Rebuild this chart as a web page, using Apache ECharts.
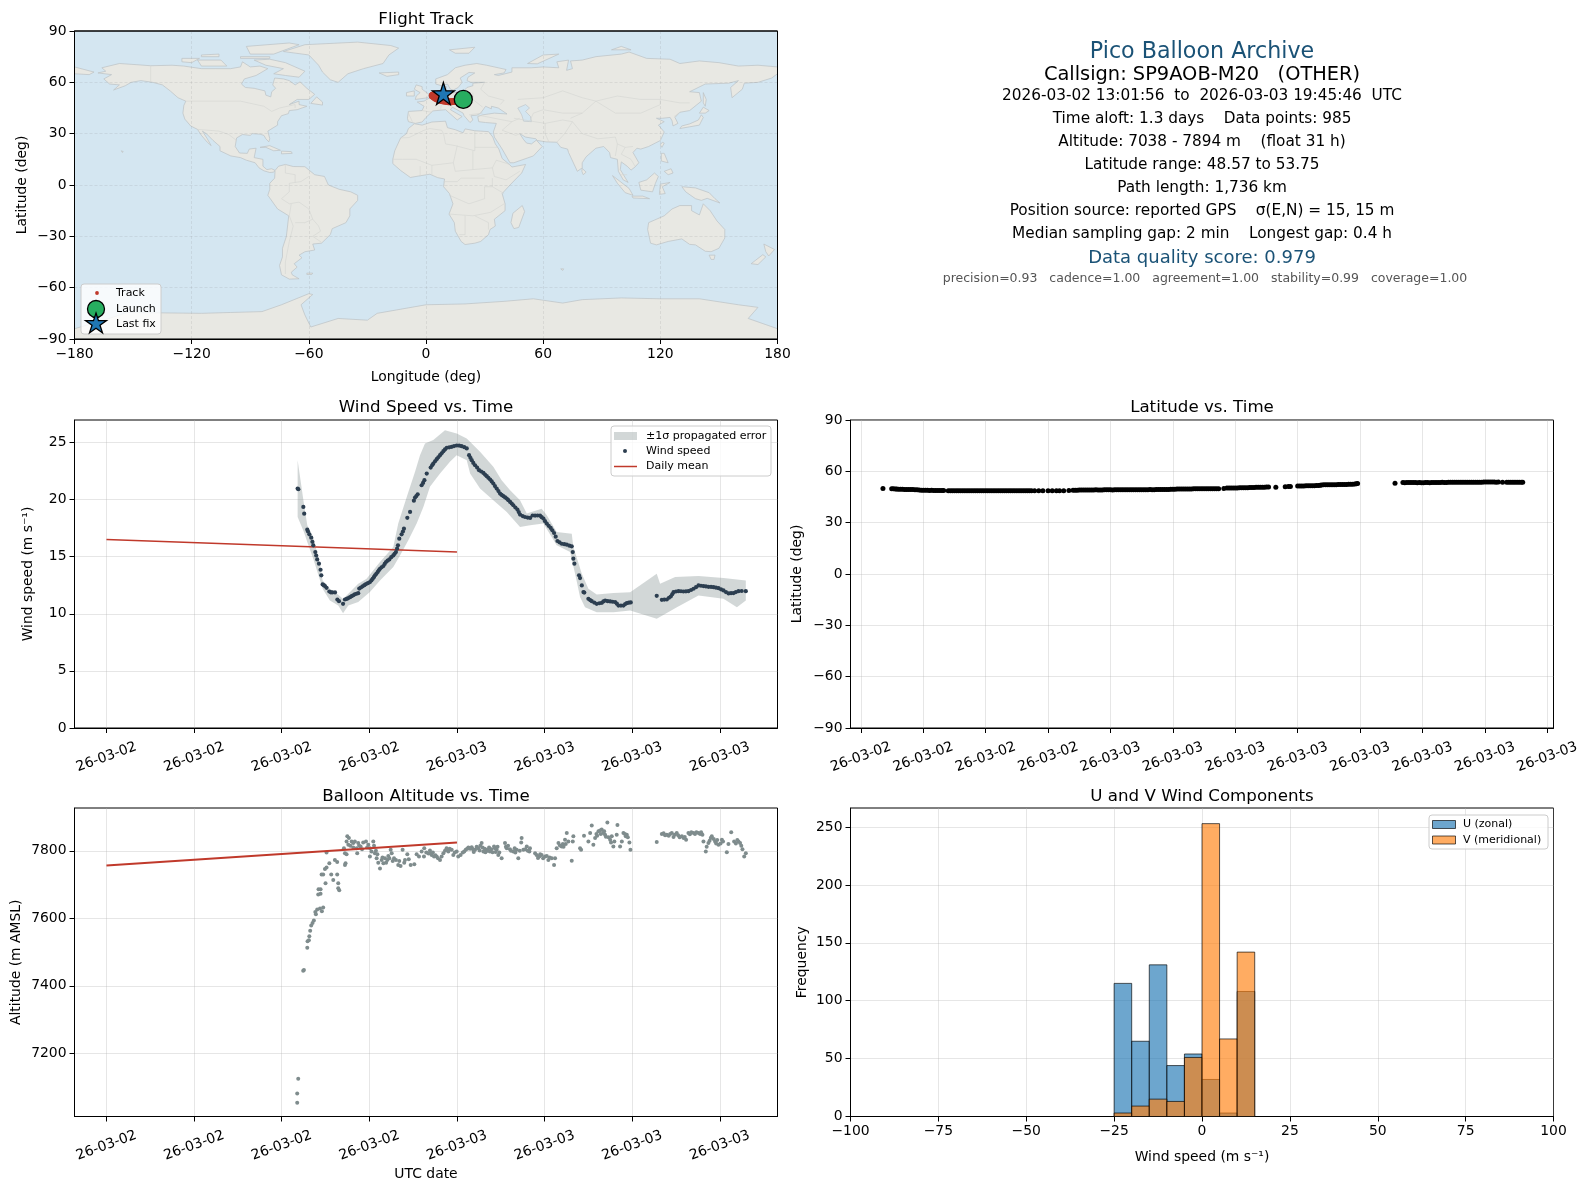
<!DOCTYPE html>
<html><head><meta charset="utf-8">
<style>html,body{margin:0;padding:0;background:#fff}#c{width:1588px;height:1189px}</style>
<script src="https://cdn.jsdelivr.net/npm/echarts@6/dist/echarts.min.js"></script>
</head><body><div id="c"></div>
<script>
// ---------- data (hours are counted from 2026-03-02 00:00 UTC) ----------
const infoLines = [
 ["Pico Balloon Archive",22.2,"#1a5276",52.5,1202],
 ["Callsign: SP9AOB-M20   (OTHER)",19.4,"#000",74.5,1202],
 ["2026-03-02 13:01:56  to  2026-03-03 19:45:46  UTC",15.3,"#000",96.5,1202],
 ["Time aloft: 1.3 days    Data points: 985",15.3,"#000",119.5,1202],
 ["Altitude: 7038 - 7894 m    (float 31 h)",15.3,"#000",142.5,1202],
 ["Latitude range: 48.57 to 53.75",15.3,"#000",165.5,1202],
 ["Path length: 1,736 km",15.3,"#000",188.5,1202],
 ["Position source: reported GPS    σ(E,N) = 15, 15 m",15.3,"#000",211.5,1202],
 ["Median sampling gap: 2 min    Longest gap: 0.4 h",15.3,"#000",234.5,1202],
 ["Data quality score: 0.979",18,"#1a5276",258.5,1202],
 ["precision=0.93   cadence=1.00   agreement=1.00   stability=0.99   coverage=1.00",12.5,"#555",278.5,1205]
];
const windTickHours = [0,6,12,18,24,30,36,42];
const windTickLabels = ["26-03-02","26-03-02","26-03-02","26-03-02","26-03-03","26-03-03","26-03-03","26-03-03"];
const latTickHours = [12,15,18,21,24,27,30,33,36,39,42,45];
const latTickLabels = ["26-03-02","26-03-02","26-03-02","26-03-02","26-03-03","26-03-03","26-03-03","26-03-03","26-03-03","26-03-03","26-03-03","26-03-03"];
const windPoints = [[13.09,20.96],[13.14,20.9],[13.48,19.35],[13.54,18.76],[13.75,17.36],[13.8,17.2],[13.89,16.95],[14.02,16.66],[14.1,16.3],[14.16,15.99],[14.3,15.4],[14.36,15.1],[14.43,14.76],[14.55,14.38],[14.66,13.85],[14.71,13.36],[14.8,12.57],[14.88,12.5],[14.96,12.42],[15.07,12.27],[15.26,11.95],[15.36,11.88],[15.46,11.87],[15.65,11.87],[15.81,11.25],[15.92,11.1],[16.2,10.87],[16.33,11.25],[16.45,11.3],[16.56,11.37],[16.68,11.45],[16.79,11.54],[16.9,11.62],[17.0,11.7],[17.12,11.75],[17.24,11.8],[17.31,12.2],[17.42,12.3],[17.54,12.4],[17.66,12.5],[17.77,12.6],[17.9,12.68],[18.04,12.77],[18.14,12.92],[18.23,13.06],[18.31,13.2],[18.39,13.36],[18.48,13.5],[18.57,13.65],[18.65,13.8],[18.73,13.94],[18.84,14.06],[18.96,14.18],[19.05,14.36],[19.14,14.53],[19.25,14.65],[19.37,14.76],[19.5,14.95],[19.64,15.11],[19.73,15.25],[19.82,15.4],[19.9,15.7],[19.96,15.99],[20.05,16.57],[20.21,16.95],[20.3,17.2],[20.37,17.45],[20.6,18.4],[20.79,18.91],[21.05,19.9],[21.13,20.17],[21.22,20.3],[21.31,20.46],[21.58,21.25],[21.68,21.45],[21.77,21.69],[21.93,22.27],[22.2,22.8],[22.3,23.0],[22.38,23.15],[22.5,23.35],[22.61,23.53],[22.72,23.7],[22.84,23.88],[22.95,24.05],[23.07,24.23],[23.18,24.38],[23.3,24.53],[23.47,24.57],[23.64,24.61],[23.8,24.68],[23.98,24.73],[24.15,24.72],[24.32,24.67],[24.5,24.58],[24.67,24.47],[24.83,23.88],[24.92,23.65],[25.01,23.44],[25.12,23.2],[25.24,23.0],[25.38,22.8],[25.51,22.57],[25.66,22.45],[25.81,22.33],[25.92,22.18],[26.04,22.04],[26.15,21.9],[26.27,21.75],[26.38,21.58],[26.49,21.4],[26.6,21.18],[26.72,20.96],[26.84,20.74],[26.95,20.52],[27.06,20.4],[27.18,20.29],[27.3,20.18],[27.41,20.08],[27.52,19.94],[27.64,19.79],[27.75,19.65],[27.86,19.5],[28.0,19.3],[28.14,19.12],[28.23,18.9],[28.32,18.68],[28.5,18.55],[28.66,18.47],[28.84,18.42],[29.01,18.39],[29.18,18.6],[29.35,18.59],[29.52,18.6],[29.69,18.59],[29.8,18.45],[29.92,18.33],[30.03,18.1],[30.15,17.89],[30.28,17.7],[30.42,17.51],[30.53,17.3],[30.65,17.07],[30.76,16.75],[30.88,16.37],[31.02,16.25],[31.18,16.13],[31.35,16.09],[31.52,16.05],[31.7,15.96],[31.86,15.9],[31.93,15.4],[31.97,14.82],[32.04,14.38],[32.36,13.36],[32.43,13.12],[32.55,12.48],[32.66,11.9],[32.72,11.85],[33.0,11.31],[33.12,11.2],[33.23,11.1],[33.4,10.98],[33.57,10.87],[33.75,10.92],[33.92,10.96],[34.03,11.08],[34.15,11.16],[34.32,11.1],[34.49,11.08],[34.66,11.05],[34.83,11.02],[34.95,10.88],[35.06,10.72],[35.23,10.72],[35.4,10.72],[35.52,10.85],[35.63,10.93],[35.77,10.97],[35.9,10.99],[37.68,11.57],[38.03,11.22],[38.2,11.24],[38.37,11.25],[38.52,11.4],[38.64,11.51],[38.74,11.7],[38.83,11.89],[39.0,11.95],[39.17,11.98],[39.34,11.97],[39.51,11.95],[39.68,11.96],[39.85,11.98],[40.03,12.08],[40.2,12.19],[40.37,12.33],[40.54,12.48],[40.71,12.45],[40.88,12.42],[41.05,12.39],[41.22,12.36],[41.4,12.35],[41.57,12.33],[41.74,12.28],[41.91,12.24],[42.08,12.14],[42.25,12.04],[42.42,11.9],[42.6,11.78],[42.77,11.8],[42.94,11.81],[43.1,11.9],[43.28,11.98],[43.5,11.99],[43.78,11.98]];
const bandUpper = [[13.09,23.44],[13.52,19.64],[13.75,17.74],[14.16,16.72],[14.66,14.09],[14.8,12.92],[15.3,12.19],[15.87,11.66],[16.2,11.3],[16.56,11.75],[17.24,12.63],[17.81,13.06],[18.73,14.53],[19.64,15.84],[19.98,17.89],[20.56,20.23],[21.13,22.42],[21.47,23.88],[21.81,24.91],[22.38,25.2],[23.18,26.07],[23.98,25.78],[24.67,25.34],[25.58,24.18],[26.49,22.86],[27.06,21.69],[27.64,20.81],[28.32,19.94],[28.78,18.77],[29.8,19.2],[30.15,18.62],[30.83,17.16],[31.86,17.01],[31.97,15.84],[32.55,13.5],[33.0,12.19],[33.57,11.69],[34.72,11.81],[35.86,11.89],[37.68,13.5],[37.91,12.63],[38.94,13.21],[40.54,13.3],[42.25,13.12],[43.78,12.92]];
const bandLower = [[13.09,18.47],[13.52,17.16],[13.75,16.28],[14.16,14.82],[14.66,12.77],[14.8,12.19],[15.3,11.16],[15.87,10.72],[16.2,10.05],[16.56,10.72],[17.24,11.02],[18.04,11.9],[18.73,12.92],[19.64,14.09],[20.1,15.11],[20.67,16.43],[21.24,17.89],[21.7,19.35],[22.15,21.11],[22.84,22.27],[23.52,23.3],[23.98,23.88],[24.67,23.44],[24.9,22.27],[25.58,20.96],[26.49,19.94],[27.41,18.91],[28.32,17.6],[29.01,17.74],[29.92,17.89],[30.83,15.99],[31.75,15.4],[32.09,13.5],[32.43,11.46],[32.77,10.58],[33.57,10.14],[34.72,10.14],[35.86,10.29],[37.68,9.56],[39.06,10.58],[40.54,11.6],[42.25,11.31],[43.17,10.58],[43.78,11.16]];
const windMeanLine = [[0,16.5],[24,15.4]];
const altMeanLine = [[0,7757],[24,7825]];
const altPoints = [[13.06,7054],[13.06,7081],[13.13,7125],[13.47,7445],[13.52,7447],[13.75,7513],[13.77,7532],[13.86,7535],[13.89,7547],[13.95,7563],[14.02,7579],[14.11,7586],[14.2,7594],[14.34,7612],[14.3,7619],[14.43,7626],[14.62,7629],[14.75,7621],[14.84,7632],[14.5,7671],[14.66,7673],[14.52,7686],[14.66,7686],[15.0,7704],[14.73,7730],[14.84,7730],[14.96,7746],[15.07,7751],[15.26,7763],[15.39,7730],[15.53,7714],[15.8,7730],[15.87,7704],[15.87,7689],[15.94,7683],[15.64,7773],[15.8,7767],[15.07,7795],[16.33,7758],[16.37,7763],[16.33,7793],[16.44,7790],[16.26,7808],[16.49,7843],[16.6,7838],[16.44,7828],[16.56,7818],[16.79,7828],[16.9,7823],[17.01,7828],[16.9,7810],[17.17,7793],[17.13,7808],[17.24,7823],[17.4,7813],[17.58,7825],[17.77,7828],[17.93,7818],[18.04,7808],[18.27,7828],[18.32,7815],[18.04,7783],[18.38,7793],[18.5,7778],[18.73,7748],[18.61,7765],[18.84,7773],[18.96,7763],[19.07,7778],[19.23,7773],[19.37,7778],[19.46,7803],[19.53,7793],[19.69,7778],[19.82,7773],[19.98,7758],[20.14,7755],[20.28,7803],[20.44,7773],[20.39,7765],[20.6,7790],[20.83,7758],[21.08,7760],[21.24,7790],[21.4,7783],[21.58,7798],[21.76,7808],[21.74,7783],[22.15,7801],[22.27,7788],[22.43,7783],[22.61,7783],[22.84,7773],[22.95,7783],[23.07,7793],[23.29,7808],[23.41,7798],[23.64,7803],[23.75,7788],[23.98,7798],[24.09,7783],[24.25,7788],[24.5,7798],[24.78,7810],[25.01,7811],[25.24,7803],[25.46,7808],[25.69,7823],[25.81,7798],[26.04,7803],[26.26,7798],[26.54,7813],[26.72,7803],[26.83,7788],[27.06,7778],[27.29,7823],[27.41,7808],[27.63,7805],[27.86,7798],[28.09,7803],[28.2,7778],[28.43,7838],[28.55,7803],[28.78,7813],[29.0,7808],[28.96,7798],[29.35,7793],[29.64,7783],[29.8,7788],[30.03,7783],[30.26,7773],[30.49,7778],[30.65,7758],[30.72,7778],[30.83,7808],[30.95,7823],[31.17,7813],[31.4,7833],[31.52,7853],[31.63,7828],[31.97,7843],[31.86,7771],[31.93,7828],[32.43,7808],[32.5,7803],[32.7,7845],[33.0,7828],[33.12,7853],[33.23,7875],[33.34,7818],[33.46,7838],[33.69,7858],[33.91,7863],[34.03,7853],[34.3,7884],[34.14,7848],[34.49,7833],[34.71,7813],[34.6,7843],[34.99,7877],[34.94,7848],[35.17,7813],[35.29,7828],[35.4,7853],[35.63,7848],[35.81,7825],[35.88,7803],[37.68,7826],[38.03,7850],[38.37,7848],[38.71,7853],[38.83,7841],[39.05,7853],[39.4,7843],[39.69,7833],[39.85,7853],[40.2,7853],[40.54,7853],[40.81,7848],[40.88,7828],[41.04,7798],[41.22,7823],[41.45,7843],[41.68,7828],[41.91,7818],[42.14,7833],[42.48,7796],[42.59,7820],[42.78,7855],[42.98,7828],[43.28,7828],[43.39,7823],[43.55,7805],[43.67,7783],[43.78,7793]];
const altExtraPoints = [[22.2,7792],[22.35,7795],[22.52,7787],[22.7,7778],[23.18,7800],[23.35,7803],[23.5,7806],[23.85,7795],[24.4,7795],[24.6,7803],[24.7,7806],[24.9,7806],[25.1,7805],[25.15,7797],[25.35,7812],[25.55,7801],[25.6,7815],[25.75,7810],[25.9,7806],[25.95,7796],[26.12,7800],[26.2,7810],[26.35,7805],[26.44,7796],[26.6,7808],[26.65,7797],[26.78,7812],[26.9,7795],[27.35,7812],[27.5,7815],[27.7,7800],[27.95,7808],[28.0,7795],[28.3,7800],[28.4,7825],[28.68,7805],[28.85,7800],[29.45,7788],[29.55,7779],[29.7,7790],[29.9,7778],[30.15,7785],[30.35,7780],[31.05,7816],[31.25,7820],[31.3,7812],[31.45,7820],[33.55,7850],[33.6,7845],[33.8,7860],[33.85,7850],[34.08,7858],[34.2,7842],[34.38,7840],[34.55,7825],[34.78,7828],[35.5,7850],[35.56,7843],[35.7,7840],[38.15,7852],[38.25,7846],[38.5,7845],[38.6,7850],[38.9,7848],[39.15,7846],[39.25,7840],[39.52,7838],[39.6,7841],[39.95,7849],[40.05,7855],[40.3,7850],[40.4,7855],[40.65,7850],[40.72,7855],[41.1,7812],[41.3,7830],[41.38,7838],[41.58,7835],[41.75,7822],[41.82,7832],[42.05,7822],[42.22,7828],[43.1,7822],[43.2,7832],[43.47,7815],[16.7,7815],[17.3,7815],[17.5,7805],[17.85,7810],[18.15,7798],[18.45,7800],[18.55,7790],[18.9,7780],[19.15,7765],[19.3,7785],[19.6,7770],[20.05,7770],[20.7,7775],[21.9,7795],[22.05,7792]];
const latPoints = [[13.06,50.0],[13.48,49.8],[13.65,49.7],[13.8,49.6],[14.0,49.5],[14.2,49.4],[14.4,49.4],[14.6,49.3],[14.8,49.1],[15.0,48.9],[15.2,48.9],[15.4,48.9],[15.6,48.8],[15.8,48.8],[15.98,48.8],[16.2,48.7],[16.4,48.7],[16.6,48.7],[16.8,48.7],[17.0,48.7],[17.2,48.65],[17.4,48.65],[17.6,48.6],[17.8,48.6],[18.0,48.6],[18.2,48.6],[18.4,48.6],[18.6,48.6],[18.8,48.6],[19.0,48.6],[19.2,48.6],[19.4,48.65],[19.6,48.65],[19.8,48.65],[20.0,48.7],[20.2,48.7],[20.35,48.7],[20.55,48.7],[20.75,48.7],[21.0,48.7],[21.2,48.7],[21.4,48.7],[21.55,48.7],[21.75,48.7],[22.0,48.75],[22.2,48.9],[22.4,49.0],[22.6,49.1],[22.8,49.1],[23.0,49.15],[23.2,49.15],[23.4,49.15],[23.6,49.15],[23.8,49.2],[24.0,49.2],[24.2,49.2],[24.4,49.2],[24.6,49.2],[24.8,49.25],[25.0,49.25],[25.2,49.25],[25.4,49.3],[25.6,49.3],[25.8,49.3],[26.0,49.3],[26.2,49.35],[26.4,49.35],[26.6,49.4],[26.8,49.45],[27.0,49.6],[27.2,49.65],[27.4,49.65],[27.6,49.7],[27.8,49.7],[28.0,49.75],[28.2,49.75],[28.4,49.8],[28.6,49.8],[28.8,49.8],[29.0,49.85],[29.2,49.85],[29.45,49.95],[29.6,50.2],[29.8,50.25],[30.0,50.3],[30.2,50.35],[30.4,50.4],[30.6,50.45],[30.8,50.5],[31.0,50.65],[31.2,50.7],[31.4,50.75],[31.6,50.8],[31.95,50.75],[32.4,51.0],[32.55,51.1],[32.65,51.15],[33.0,51.45],[33.2,51.5],[33.4,51.55],[33.6,51.6],[33.8,51.6],[34.0,51.65],[34.15,52.05],[34.35,52.1],[34.55,52.15],[34.75,52.2],[34.95,52.25],[35.15,52.3],[35.35,52.35],[35.55,52.4],[35.75,52.55],[35.88,52.85],[37.68,53.0],[38.06,53.45],[38.25,53.45],[38.45,53.45],[38.65,53.45],[38.85,53.45],[39.05,53.4],[39.25,53.45],[39.45,53.45],[39.65,53.5],[39.85,53.5],[40.05,53.5],[40.25,53.55],[40.45,53.55],[40.65,53.55],[40.85,53.6],[41.05,53.6],[41.25,53.6],[41.45,53.65],[41.65,53.65],[41.85,53.65],[42.05,53.7],[42.25,53.7],[42.45,53.7],[42.65,53.7],[42.85,53.6],[43.05,53.6],[43.25,53.6],[43.45,53.6],[43.65,53.6],[43.82,53.6]];
const latExtraPoints = [[13.56,49.75],[13.72,49.65],[13.9,49.55],[14.1,49.45],[14.3,49.4],[14.5,49.35],[14.7,49.2],[14.9,49.0],[15.1,48.9],[15.3,48.85],[15.5,48.85],[15.7,48.8],[15.9,48.75],[16.3,48.7],[16.5,48.7],[16.7,48.65],[16.9,48.7],[17.1,48.65],[17.3,48.7],[17.5,48.6],[17.7,48.6],[17.9,48.65],[18.1,48.6],[18.3,48.6],[18.5,48.65],[18.7,48.6],[18.9,48.6],[19.1,48.6],[19.3,48.65],[19.5,48.65],[19.7,48.6],[19.9,48.7],[20.1,48.7],[22.3,48.95],[22.5,49.05],[22.7,49.1],[22.9,49.1],[23.1,49.15],[23.3,49.2],[23.5,49.15],[23.7,49.2],[23.9,49.2],[24.1,49.15],[24.3,49.2],[24.5,49.25],[24.7,49.2],[24.9,49.25],[25.1,49.3],[25.3,49.25],[25.5,49.3],[25.7,49.3],[25.9,49.35],[26.1,49.3],[26.3,49.35],[26.5,49.4],[26.7,49.4],[26.9,49.55],[27.1,49.6],[27.3,49.65],[27.5,49.7],[27.7,49.7],[27.9,49.7],[28.1,49.75],[28.3,49.8],[28.5,49.8],[28.7,49.85],[28.9,49.85],[29.1,49.85],[29.7,50.25],[29.9,50.3],[30.1,50.3],[30.3,50.4],[30.5,50.4],[30.7,50.5],[30.9,50.55],[31.1,50.7],[31.3,50.75],[31.5,50.8],[33.1,51.5],[33.3,51.5],[33.5,51.55],[33.7,51.6],[33.9,51.65],[34.08,51.9],[34.25,52.1],[34.45,52.1],[34.65,52.2],[34.85,52.2],[35.05,52.25],[35.25,52.35],[35.45,52.4],[35.65,52.45],[35.82,52.7],[38.15,53.4],[38.35,53.5],[38.55,53.45],[38.75,53.4],[38.95,53.4],[39.15,53.5],[39.35,53.4],[39.55,53.5],[39.75,53.5],[39.95,53.55],[40.15,53.5],[40.35,53.6],[40.55,53.55],[40.75,53.6],[40.95,53.6],[41.15,53.65],[41.35,53.6],[41.55,53.65],[41.75,53.65],[41.95,53.7],[42.15,53.7],[42.35,53.75],[42.55,53.65],[43.15,53.6],[43.35,53.55],[43.55,53.6],[43.75,53.6]];
const binEdges = [-25,-20,-15,-10,-5,0,5,10,15];
const uCounts = [115,65,131,44,54,32,3,108];
const vCounts = [3,9,15,13,51,253,67,142];
const trackPoints = [[19.1,50],[18.2,49.8],[17.5,49.6],[16.8,49.3],[16,49.1],[15.2,48.95],[14.5,48.8],[13.7,48.75],[13,48.7],[12.2,48.7],[11.5,48.7],[10.8,48.8],[10,48.9],[9.2,49.05],[8.5,49.2],[7.7,49.45],[7,49.7],[6.4,50],[5.8,50.3],[5.2,50.6],[4.6,51],[4.1,51.4],[3.6,51.8],[3.3,52.1],[3.2,52.3],[3.6,52.6],[4,52.8],[4.6,53],[5.2,53.1],[5.9,53.2],[6.5,53.3],[7.2,53.4],[7.8,53.45],[8.9,53.5]];
const launchPoint = [[19.1,50]];
const lastFixPoint = [[8.9,53.5]];
const landPolygons = [
 [[-168,65.5],[-164,66.5],[-166,68.5],[-157,71],[-148,70.3],[-141,69.7],[-130,70],[-124,69.5],[-115,68],[-108,68],[-100,68],[-95,69],[-94,72],[-90,69],[-85,69.5],[-81,68],[-87,64],[-93,62],[-94.5,59],[-92.5,57],[-88,56.5],[-82.5,55],[-82,52.5],[-79.5,51.5],[-79,54.5],[-77,56.5],[-78.5,58.5],[-77.5,62.5],[-73,62],[-70,61],[-67,58.5],[-64.5,60.3],[-61,56.5],[-57,53],[-60,50],[-66,50],[-70,47],[-65,49],[-65,47],[-61,46],[-66,44],[-70,43.5],[-70.5,41.7],[-74,40.5],[-76,37],[-76,35],[-81,31.5],[-80,27],[-80.5,25.2],[-82,27],[-83,29],[-85,29.7],[-89,30],[-90,29],[-94,29.5],[-97,27.5],[-97.7,22.5],[-95.5,18.7],[-91.5,18.5],[-90.5,21],[-87,21.5],[-88,16],[-83.5,15],[-83.5,11],[-81.5,9],[-79,9.5],[-77.3,8.5],[-78,7.5],[-80,7.3],[-83,8.3],[-85.5,10],[-87.5,13],[-92,14.5],[-95,16],[-100,17],[-105.5,20],[-105.5,22.5],[-109,26],[-112.5,30],[-114.5,31.5],[-112,27],[-110,23],[-112,25],[-115,29],[-117,32.5],[-120.5,34.5],[-123.5,38.5],[-124.5,42],[-124,46.5],[-123,49],[-127,51],[-131,55],[-135,58.5],[-140,60],[-146,61],[-151,60],[-154,58],[-160,55.5],[-157,58.5],[-162,59],[-165,62],[-161,64.5]],
 [[-73,78],[-62,82],[-35,83.5],[-18,81.5],[-14,80],[-19,76],[-22,71],[-32,68],[-40,65],[-45,60],[-49,61.5],[-53,66],[-55,70],[-60,76]],
 [[-80,73.5],[-72,71.5],[-62,66.5],[-65,63],[-72,64],[-78,65],[-73,68],[-82,70],[-88,73]],
 [[-117,73],[-105,73],[-102,69.5],[-115,69.5]],
 [[-90,76.5],[-78,76.5],[-65,82],[-70,83],[-92,81]],
 [[-125,74],[-116,74],[-120,71.5],[-125,72]],
 [[-95,75],[-80,75],[-80,74],[-95,74]],
 [[-115,76],[-106,76.5],[-106,75],[-115,75]],
 [[-59,47.7],[-53,46.7],[-53,48.5],[-56,51.5]],
 [[-85,22],[-80,23],[-74.5,20.3],[-78,20],[-82,22]],
 [[-74,19.8],[-69,19.5],[-68.5,18.5],[-74,18.2]],
 [[-156,20],[-155,19.5],[-155.5,19]],
 [[-77.3,8.5],[-75.5,11],[-72,12],[-68,10.8],[-62,10.7],[-57,6],[-52,5],[-50,0],[-44.5,-2.5],[-38.5,-4],[-35,-6],[-35,-9],[-39,-14],[-39,-18],[-41,-22],[-48,-25.5],[-49,-29],[-53.5,-34],[-58,-34.5],[-57,-38],[-62,-39],[-65,-41],[-63.5,-42.5],[-67.5,-46],[-66,-48],[-69,-51],[-68.5,-52.5],[-65,-54.8],[-70,-55],[-74,-52.5],[-75,-47],[-73.5,-42],[-73.5,-37],[-71.5,-30],[-70.3,-18],[-76,-14],[-81,-6],[-80,-2.5],[-80,1],[-77.5,4]],
 [[-61,-51.5],[-58,-51.5],[-58.5,-52.3],[-61,-52.3]],
 [[-6,35.8],[-2,35],[3,36.8],[10,37.3],[11,33.5],[15,32.3],[19,30.5],[20,32.8],[25,31.7],[32,31.2],[34.2,28],[35.5,24],[37.3,21],[39,15.5],[43,11.7],[44,10.5],[51,12],[49,7],[43,0],[39,-5],[40.5,-11],[40.5,-15],[35,-20],[35.5,-24],[32.8,-26],[32,-29],[28,-33],[25,-34],[20,-34.8],[18,-33],[15,-27],[14.5,-22],[11.8,-17],[13.8,-11],[12,-5],[9,-1],[9.5,3.5],[6,4.3],[2,6.3],[-4,5.2],[-8,4.4],[-13,8.5],[-17,12.5],[-17,15],[-16,20],[-13,27.5],[-10,30],[-9,33]],
 [[49.3,-12],[50.5,-15.5],[47.5,-24.8],[45,-25.5],[43.5,-22],[44.5,-16.5]],
 [[-9,37],[-9.5,39],[-9,43],[-2,43.5],[-1,46],[-4.5,48.5],[-1,49],[2,51],[4.5,52.5],[8,54],[8.5,57],[10.5,57.5],[10,54.5],[14,54],[19,54.5],[21,57],[24,58],[24,59.5],[30,60],[23,60],[21,61],[21.5,63],[25,65.5],[22,65.8],[17.5,62.5],[18.5,60],[16.5,57],[14,55.5],[12.5,56],[11,59],[8,58],[5,59],[5,62],[11,64.5],[15,68.5],[20,70],[26,71],[31,70],[41,67.5],[40,65.5],[35,64.5],[37,64],[44,66],[44,68.5],[54,68.5],[60,69],[68,68.5],[67,72],[73,73],[72,67],[75,68],[74,72.5],[80,73],[87,75],[100,76.5],[104,77.7],[113,74],[125,73.5],[130,71],[140,72.5],[150,71.5],[160,69.5],[170,70],[180,69],[180,65],[177,62.5],[170,60],[163,59.5],[162,56],[156.7,51],[156,57],[160,61],[155,59.5],[143,59],[135,54.5],[140,54],[141,49],[135,43.5],[130,42.5],[127.5,39.5],[129,36],[126.5,34.5],[126,37.5],[125,39.5],[121,39],[118,39],[122,37],[119,35],[122,31],[120,26],[114,22.5],[110,21],[108,21.5],[106,19],[109,13],[107,10.5],[105,8.7],[103,11],[100,13.5],[99.5,9],[103.5,1.5],[101,3],[98.5,8],[98,15],[94.5,16],[94,19],[91,22.5],[87,21.5],[82,16.5],[80,13],[80,10],[77.5,8],[73,19],[72.5,21],[69,22],[67,25],[61.5,25.2],[57,26],[56.3,27],[51,28],[48,30],[50,26.5],[51.5,24.5],[54,24],[56.5,26.2],[59.5,22.5],[55,17],[45,13],[43,13],[39,21],[35,28],[34.5,31],[36,36],[30.5,36.5],[27,37],[26.5,40],[29,41],[35,42],[41.5,41.5],[37,45],[33.5,46],[33.5,44.5],[30.5,46],[28,42],[26,40.8],[23,40.5],[24,38],[22.5,36.5],[19.5,40.5],[19,42],[13.5,45.5],[12.5,44],[18.5,40],[16,38],[10,44],[3.5,43.3],[0,39.5],[-2,36.8],[-5.5,36]],
 [[-5.5,50],[1,51],[1.5,53],[-2,56],[-2,57.5],[-5,58.5],[-6,56],[-3,54],[-5,52]],
 [[-10,52],[-6,52],[-6,55],[-10,54]],
 [[-24,65.5],[-14,66],[-14,64.5],[-20,63.5]],
 [[12,79],[25,80.5],[22,77],[15,77]],
 [[52,71],[57,70.8],[68,76.5],[60,76]],
 [[95,79],[105,79],[100,81]],
 [[142,54],[143.5,50],[143,46],[142,48]],
 [[130,33],[135,34],[140,35],[142,39.5],[141,41],[139.5,38],[135,35.7],[131,34.5]],
 [[140,42],[142,45.5],[145,43.5],[143,42]],
 [[121,25],[122,24.5],[120.8,22],[120,23.5]],
 [[120.5,18.5],[122,18.5],[124,13],[120.5,14]],
 [[122,8],[125.5,9.5],[126.5,7],[124,6]],
 [[109,1.5],[113,3],[117,7],[119,5],[117.5,1],[116,-4],[110,-3]],
 [[95.5,5.5],[104,-2],[106,-6],[102,-4.5],[98,1]],
 [[105.5,-6.5],[111,-6.5],[114.5,-8],[106,-7.6]],
 [[119.5,-5.5],[120,0.5],[125,1.5],[121,-1],[122.5,-5]],
 [[131,-1],[138,-1.7],[145,-4.5],[148,-8],[150.5,-10.5],[144,-7.8],[141,-9],[138,-8],[133,-4]],
 [[80,9.7],[82,7.5],[80.5,6],[79.8,8]],
 [[114,-22],[122,-18],[126,-14],[130,-12],[136,-12],[136,-15],[140,-17.5],[142,-11],[145.5,-15],[149,-21],[153,-26],[153,-31],[150,-37],[146,-39],[143,-38.7],[138,-35],[135,-34.7],[131,-31.5],[124,-33],[118,-35],[115,-34],[113.5,-26]],
 [[145,-41],[148,-41],[147.5,-43.5],[146,-43.5]],
 [[173,-34.5],[178.5,-37.7],[175.5,-41.5],[174,-39]],
 [[172.5,-40.7],[174,-42],[170,-46.5],[166.5,-46]],
 [[69,-49],[70.5,-49],[70,-50]],
 [[-180,69],[-170,66],[-172.5,64.5],[-180,65]],
 [[-180,-90],[-180,-84],[-165,-79],[-153,-74.5],[-115,-75],[-100,-74.5],[-84,-74],[-74,-70],[-60,-63.5],[-58,-64],[-64,-70],[-62,-76],[-59,-83],[-45,-78],[-30,-79],[-25,-75],[-15,-73],[0,-70],[20,-69.5],[40,-68],[55,-66.5],[70,-69],[80,-67],[100,-66],[120,-66.5],[140,-66.5],[160,-70],[170,-71.5],[165,-78],[180,-84],[180,-90]]
];
const caspianSea = [[47,45],[51,47],[53,45],[51,43],[53.5,40],[54,37],[50,37.3],[49,41]];
const borderLines = [
 [[-123,49],[-95,49],[-83,46],[-79,43],[-75,45],[-67,47],[-67,45]],[[-141,69.7],[-141,60]],[[-117,32.5],[-106,31.5],[-101,29.5],[-97,26]],
 [[-60,5],[-64,2],[-70,1],[-70,-4],[-74,-8],[-70,-11],[-65,-10],[-60,-14],[-58,-20],[-55,-24],[-54,-27],[-58,-30],[-53.5,-33.5]],
 [[-70,-18],[-68,-24],[-70,-33],[-72,-45],[-72,-52]],[[-70,-18],[-69,-11]],[[-72,12],[-72,7],[-67,6],[-67,1.5]],[[-58,-20],[-62,-22],[-67,-22]],
 [[-13,27.5],[-8.7,27.7],[-1,32],[2,33],[8,32],[9,30],[10,24],[15,23],[25,20],[25,31.7]],[[25,22],[36.5,22]],[[16,23],[14,13],[3,11.5],[-5,15],[-12,15],[-17,15]],
 [[24,20],[24,9],[15,8],[14,13]],[[34,10],[24,9]],[[34,10],[36,14.5],[43,12]],[[34,10],[35,5],[41,3],[48,8]],[[34,4],[34,-1],[40,-5]],
 [[30,-1],[30,-8],[22,-11],[12,-6]],[[9,2],[16,2],[18,4],[30,4]],[[34,-1],[30,-1]],[[12,-17],[24,-18],[33,-16],[40,-11]],[[20,-18],[20,-29],[17,-29]],[[25,-18],[32,-22],[32,-26]],[[-3,5],[-3,11]],[[3,6],[3,11.5]],
 [[-2,43.5],[3,42.5]],[[-9,42],[-7,37]],[[2,51],[8,49],[7.5,44]],[[7,54],[6,50]],[[14,54],[15,51],[13,48.5],[9,47.5]],[[14,51],[24,50],[22,48],[17,48]],[[24,54],[24,50]],[[24,50],[29,45.5]],[[30,60],[28,56],[32,52],[40,49.5],[38,47]],[[22,41],[29,42]],
 [[26,41],[44,37],[48,39]],[[44,37],[39,32],[46,29],[48,30]],[[45,39],[61,36],[61,30],[63,25]],[[61,36],[70,38],[75,37],[71,30],[67,25]],[[75,37],[80,30],[88,27],[97,28],[98,24],[102,22],[106,22.5]],
 [[47,50],[60,51],[70,55],[80,51],[87,49],[98,52],[110,50],[120,50],[130,48],[135,48]],[[87,49],[97,42],[110,42],[120,47],[120,50]],[[80,42],[74,39]],[[55,42],[60,44],[70,42],[80,42],[87,49]],[[55,42],[53,37]],[[98,24],[97,17]],[[102,22],[100,18],[105,15],[107,11]],[[127,40],[130,42.5]],[[100,6],[103,6]]
];
// ---------- layout and style ----------
const FONT = 'DejaVu Sans';
const GRIDS = [
 {left:74.5,top:31,width:703,height:308},{left:74.5,top:420,width:703,height:308},{left:850.5,top:420,width:703,height:308},
 {left:74.5,top:808,width:703,height:308.5},{left:850.5,top:808,width:703,height:308.5}];
const RED='#c0392b', NAVY='#2c3e50', GREY='#7f8c8d', OCEAN='#d4e6f1', LAND='#e8e8e3', BAND='#7f8c8d';
const fmtNum = v => String(v).replace('-','\u2212');
function axis(gridIndex,pos,min,max,ticks,name,gap,opt={}){
 const labels = opt.labels;
 const rotated = !!labels;
 return {type:'value',gridIndex,position:pos,min,max,name,nameLocation:'middle',nameGap:gap,
  nameTextStyle:{fontFamily:FONT,fontSize:13.9,color:'#000'},
  axisLine:{show:true,onZero:false,lineStyle:{color:'#000',width:1}},
  axisTick:{show:true,length:5,customValues:ticks,lineStyle:{color:'#000',width:1}},
  axisLabel:{customValues:ticks,color:'#000',fontFamily:FONT,fontSize:13.9,hideOverlap:false,
    margin:rotated?29:8,rotate:rotated?20:0,align:rotated?'center':undefined,verticalAlign:rotated?'middle':undefined,
    formatter:labels?(v=>labels[ticks.indexOf(v)]):fmtNum},
  splitLine:opt.split||{show:true,lineStyle:{color:'#b0b0b0',opacity:0.32,width:1}},
  z:opt.z||0};
}
const mapSplit={show:true,lineStyle:{color:'#808080',opacity:0.3,width:0.5,type:[3,2]}};
const pairsToCoords=(api,pts)=>pts.map(p=>api.coord(p));
function polySeries(name,gi,polys,style,isLine,z){
 return {type:'custom',name,coordinateSystem:'cartesian2d',xAxisIndex:gi,yAxisIndex:gi,clip:true,silent:true,z,
  data:polys.map((p,i)=>[p[0][0],p[0][1],i]),
  renderItem:(params,api)=>({type:isLine?'polyline':'polygon',shape:{points:pairsToCoords(api,polys[params.dataIndex])},style})};
}
function histSeries(name,gi,counts,color,z){
 return {type:'custom',name,coordinateSystem:'cartesian2d',xAxisIndex:gi,yAxisIndex:gi,clip:true,z,silent:true,
  data:counts.map((c,i)=>[binEdges[i],c]),
  renderItem:(params,api)=>{const i=params.dataIndex;const a=api.coord([binEdges[i],counts[i]]),b=api.coord([binEdges[i+1],0]);
   return {type:'rect',shape:{x:a[0],y:a[1],width:b[0]-a[0],height:b[1]-a[1]},style:{fill:color,stroke:'#000',lineWidth:1,opacity:0.65}};}};
}
function scatter(name,gi,data,size,color,z,extra={}){
 return Object.assign({type:'scatter',name,xAxisIndex:gi,yAxisIndex:gi,data,symbolSize:size,silent:true,large:false,z,
  itemStyle:{color,opacity:1}},extra);
}
function line(name,gi,data,color,width,z){
 return {type:'line',name,xAxisIndex:gi,yAxisIndex:gi,data,symbol:'none',silent:true,z,lineStyle:{color,width}};
}
function starPoints(cx,cy,R){const r=R*0.382,o=[];for(let i=0;i<10;i++){const a=-Math.PI/2+i*Math.PI/5,q=i%2?r:R;o.push([cx+q*Math.cos(a),cy+q*Math.sin(a)]);}return o;}
function legendBox(x,y,w,h,rows){
 const out=[{type:'rect',shape:{x,y,width:w,height:h,r:3},style:{fill:'rgba(255,255,255,0.8)',stroke:'#cccccc',lineWidth:1},z:100}];
 rows.forEach(r=>{
  out.push({type:'text',style:{text:r.text,x:r.tx,y:r.y,font:'11px "'+FONT+'"',fill:'#000',textVerticalAlign:'middle',verticalAlign:'middle'},z:101});
  out.push(...r.marks.map(m=>Object.assign({z:101},m)));
 });
 return out;
}
const graphics=[
 {type:'rect',shape:{x:74.5,y:31,width:703,height:308},style:{fill:'none',stroke:'#000',lineWidth:1},z:90},
 ...legendBox(81,284,80,50,[
  {text:'Track',tx:116,y:293,marks:[{type:'circle',shape:{cx:97,cy:293,r:1.9},style:{fill:RED}}]},
  {text:'Launch',tx:116,y:309,marks:[{type:'circle',shape:{cx:96,cy:309,r:8.5},style:{fill:'#27ae60',stroke:'#000',lineWidth:1.3}}]},
  {text:'Last fix',tx:116,y:324,marks:[{type:'polygon',shape:{points:starPoints(96,324,11)},style:{fill:'#1f77b4',stroke:'#000',lineWidth:1.3}}]}
 ]),
 ...legendBox(611,426,160,50,[
  {text:'\u00b11\u03c3 propagated error',tx:646,y:436,marks:[{type:'rect',shape:{x:614,y:432,width:23,height:8},style:{fill:BAND,opacity:0.35}}]},
  {text:'Wind speed',tx:646,y:451,marks:[{type:'circle',shape:{cx:625,cy:451,r:2},style:{fill:NAVY}}]},
  {text:'Daily mean',tx:646,y:466.5,marks:[{type:'line',shape:{x1:614,y1:466.5,x2:637,y2:466.5},style:{stroke:RED,lineWidth:1.5}}]}
 ]),
 ...legendBox(1429,815,119,34,[
  {text:'U (zonal)',tx:1463,y:824.5,marks:[{type:'rect',shape:{x:1432.5,y:820.5,width:23,height:8},style:{fill:'#1f77b4',stroke:'#000',lineWidth:1,opacity:0.65}}]},
  {text:'V (meridional)',tx:1463,y:840,marks:[{type:'rect',shape:{x:1432.5,y:836,width:23,height:8},style:{fill:'#ff7f0e',stroke:'#000',lineWidth:1,opacity:0.65}}]}
 ])
];
const panelTitles=[['Flight Track',426,20],['Wind Speed vs. Time',426,407.5],['Latitude vs. Time',1202,407.5],['Balloon Altitude vs. Time',426,796.5],['U and V Wind Components',1202,796.5]];
const titles=panelTitles.map(t=>({text:t[0],left:t[1],top:t[2],textAlign:'center',textVerticalAlign:'middle',padding:0,textStyle:{fontFamily:FONT,fontSize:16.67,fontWeight:'normal',color:'#000'}}))
 .concat(infoLines.map(l=>({text:l[0],left:l[4],top:l[3],textAlign:'center',textVerticalAlign:'middle',padding:0,textStyle:{fontFamily:FONT,fontSize:l[1],fontWeight:'normal',color:l[2]}})));

const option={
 animation:false,backgroundColor:'#fff',title:titles,graphic:graphics,
 grid:GRIDS.map((g,i)=>Object.assign({show:true,borderColor:'#000',borderWidth:1,backgroundColor:i===0?OCEAN:'transparent',containLabel:false},g)),
 xAxis:[
  axis(0,'bottom',-180,180,[-180,-120,-60,0,60,120,180],'Longitude (deg)',31,{split:mapSplit,z:3}),
  axis(1,'bottom',-2.19,45.95,windTickHours,'',0,{labels:windTickLabels}),
  axis(2,'bottom',11.5,45.3,latTickHours,'',0,{labels:latTickLabels}),
  axis(3,'bottom',-2.19,45.95,windTickHours,'UTC date',51,{labels:windTickLabels}),
  axis(4,'bottom',-100,100,[-100,-75,-50,-25,0,25,50,75,100],'Wind speed (m s\u207b\u00b9)',34)
 ],
 yAxis:[
  axis(0,'left',-90,90,[-90,-60,-30,0,30,60,90],'Latitude (deg)',45,{split:mapSplit,z:3}),
  axis(1,'left',0,26.96,[0,5,10,15,20,25],'Wind speed (m s\u207b\u00b9)',39),
  axis(2,'left',-90,90,[-90,-60,-30,0,30,60,90],'Latitude (deg)',46),
  axis(3,'left',7013,7927,[7200,7400,7600,7800],'Altitude (m AMSL)',51),
  axis(4,'left',0,266.5,[0,50,100,150,200,250],'Frequency',41)
 ],
 series:[
  polySeries('Land',0,landPolygons,{fill:LAND,stroke:'#bcc1c4',lineWidth:0.7},false,1),
  polySeries('Caspian Sea',0,[caspianSea],{fill:OCEAN,stroke:'#bcc1c4',lineWidth:0.6},false,1.2),
  polySeries('Borders',0,borderLines,{fill:'none',stroke:'#d4d5d2',lineWidth:0.6},true,1.5),
  scatter('Track',0,trackPoints,7,RED,5),
  scatter('Launch',0,launchPoint,18,'#27ae60',6,{itemStyle:{color:'#27ae60',borderColor:'#000',borderWidth:1.3,opacity:1}}),
  scatter('Last fix',0,lastFixPoint,22,'#1f77b4',7,{symbol:'path://M50 0 L61.2 34.5 L97.6 34.5 L68.2 55.9 L79.4 90.5 L50 69.1 L20.6 90.5 L31.8 55.9 L2.4 34.5 L38.8 34.5 Z',itemStyle:{color:'#1f77b4',borderColor:'#000',borderWidth:1.3,opacity:1}}),
  polySeries('\u00b11\u03c3 propagated error',1,[bandUpper.concat(bandLower.slice().reverse())],{fill:BAND,opacity:0.35},false,1),
  line('Daily mean',1,windMeanLine,RED,1.5,2),
  scatter('Wind speed',1,windPoints,4.2,NAVY,3),
  scatter('Latitude',2,latPoints.concat(latExtraPoints),5,'#000',3),
  scatter('Altitude',3,altPoints.concat(altExtraPoints),4,GREY,2),
  line('Daily mean altitude',3,altMeanLine,RED,2,3),
  histSeries('U (zonal)',4,uCounts,'#1f77b4',2),
  histSeries('V (meridional)',4,vCounts,'#ff7f0e',3)
 ]
};
echarts.init(document.getElementById('c')).setOption(option);
</script></body></html>
